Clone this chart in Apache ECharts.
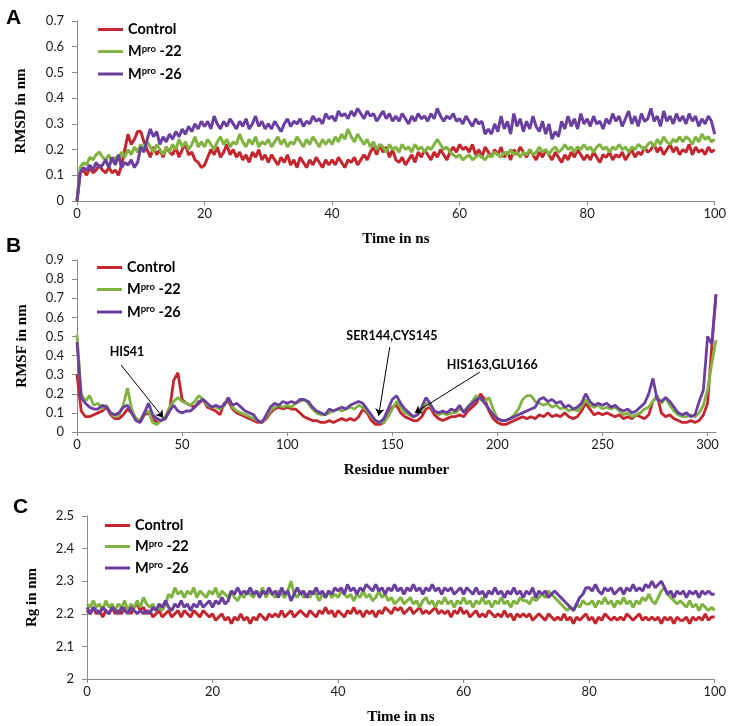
<!DOCTYPE html>
<html>
<head>
<meta charset="utf-8">
<script src="https://cdn.jsdelivr.net/npm/echarts@6/dist/echarts.min.js"></script>
<style>
html,body{margin:0;padding:0;background:#fff;}
#chart{width:729px;height:726px;}
</style>
</head>
<body>
<div id="chart"></div>
<script>
// ---------- DATA ----------
const seriesNames = ['Control', 'Mpro -22', 'Mpro -26'];
const seriesColors = ['#c3262c', '#80b341', '#6b3fa0'];

// Panel A: RMSD (nm), sampled every 0.5 ns from 0 to 100 ns
const timeStepNs = 0.5;
const rmsdControl = [
0,0.11,0.12,0.10,0.13,0.11,0.12,0.14,0.12,0.11,
0.13,0.11,0.12,0.10,0.14,0.20,0.26,0.22,0.24,0.27,
0.27,0.23,0.20,0.17,0.21,0.18,0.20,0.17,0.21,0.19,
0.18,0.21,0.17,0.20,0.22,0.18,0.19,0.16,0.15,0.13,
0.14,0.17,0.20,0.18,0.21,0.17,0.19,0.22,0.18,0.20,
0.17,0.19,0.16,0.18,0.15,0.19,0.17,0.20,0.16,0.18,
0.15,0.18,0.16,0.14,0.17,0.15,0.18,0.14,0.16,0.13,
0.17,0.15,0.13,0.16,0.14,0.17,0.15,0.13,0.16,0.14,
0.16,0.14,0.17,0.15,0.13,0.16,0.15,0.17,0.14,0.16,
0.18,0.16,0.19,0.21,0.18,0.22,0.19,0.21,0.17,0.20,
0.16,0.15,0.17,0.14,0.16,0.18,0.15,0.19,0.17,0.20,
0.18,0.16,0.19,0.17,0.20,0.18,0.16,0.19,0.21,0.19,
0.22,0.20,0.21,0.19,0.22,0.18,0.20,0.17,0.21,0.19,
0.17,0.20,0.18,0.21,0.17,0.19,0.16,0.20,0.18,0.21,
0.19,0.17,0.20,0.18,0.16,0.19,0.17,0.20,0.18,0.16,
0.19,0.17,0.15,0.18,0.16,0.19,0.17,0.20,0.18,0.16,
0.18,0.16,0.19,0.17,0.15,0.18,0.17,0.19,0.16,0.18,
0.17,0.19,0.16,0.18,0.20,0.17,0.19,0.18,0.21,0.19,
0.20,0.22,0.19,0.21,0.18,0.20,0.22,0.19,0.21,0.18,
0.20,0.19,0.22,0.18,0.21,0.19,0.20,0.18,0.21,0.19,
0.20];
const rmsdMpro22 = [
0,0.13,0.15,0.14,0.17,0.16,0.18,0.19,0.17,0.16,
0.18,0.15,0.17,0.16,0.19,0.17,0.20,0.18,0.21,0.19,
0.22,0.20,0.23,0.21,0.19,0.22,0.20,0.18,0.21,0.19,
0.22,0.20,0.24,0.21,0.23,0.20,0.22,0.25,0.21,0.23,
0.21,0.24,0.22,0.20,0.23,0.25,0.22,0.24,0.21,0.23,
0.22,0.26,0.23,0.21,0.24,0.22,0.25,0.21,0.23,0.22,
0.24,0.21,0.23,0.25,0.22,0.24,0.21,0.23,0.22,0.25,
0.23,0.21,0.24,0.22,0.25,0.23,0.21,0.24,0.22,0.24,
0.22,0.25,0.23,0.26,0.24,0.28,0.25,0.23,0.26,0.24,
0.22,0.24,0.21,0.23,0.20,0.22,0.21,0.19,0.22,0.20,
0.21,0.19,0.22,0.20,0.21,0.19,0.22,0.20,0.21,0.19,
0.21,0.20,0.22,0.24,0.22,0.20,0.21,0.19,0.18,0.17,
0.18,0.16,0.17,0.18,0.16,0.17,0.18,0.17,0.16,0.18,
0.17,0.19,0.18,0.17,0.19,0.18,0.20,0.18,0.19,0.17,
0.19,0.18,0.20,0.18,0.19,0.21,0.19,0.20,0.18,0.20,
0.21,0.19,0.20,0.22,0.20,0.21,0.19,0.21,0.20,0.22,
0.20,0.21,0.19,0.21,0.22,0.20,0.21,0.19,0.21,0.20,
0.22,0.20,0.21,0.19,0.21,0.20,0.22,0.21,0.20,0.22,
0.23,0.21,0.24,0.22,0.25,0.23,0.22,0.24,0.23,0.25,
0.23,0.25,0.24,0.22,0.25,0.23,0.26,0.24,0.25,0.23,
0.24];
const rmsdMpro26 = [
0,0.11,0.13,0.12,0.14,0.12,0.15,0.13,0.14,0.16,
0.13,0.17,0.14,0.18,0.13,0.15,0.14,0.16,0.13,0.15,
0.21,0.19,0.24,0.28,0.25,0.27,0.22,0.25,0.23,0.26,
0.24,0.27,0.25,0.28,0.26,0.29,0.27,0.30,0.28,0.31,
0.29,0.31,0.28,0.33,0.30,0.28,0.31,0.29,0.32,0.30,
0.28,0.31,0.29,0.32,0.28,0.30,0.33,0.29,0.31,0.28,
0.30,0.28,0.31,0.29,0.27,0.30,0.32,0.29,0.31,0.30,
0.32,0.29,0.31,0.30,0.33,0.31,0.32,0.30,0.34,0.32,
0.33,0.31,0.35,0.33,0.34,0.32,0.35,0.33,0.36,0.34,
0.32,0.35,0.33,0.34,0.31,0.33,0.35,0.32,0.34,0.31,
0.33,0.31,0.34,0.32,0.30,0.33,0.31,0.34,0.32,0.33,
0.31,0.34,0.32,0.36,0.33,0.31,0.33,0.32,0.34,0.31,
0.32,0.30,0.33,0.31,0.29,0.32,0.30,0.31,0.26,0.28,
0.26,0.30,0.27,0.33,0.28,0.31,0.26,0.34,0.29,0.32,
0.27,0.31,0.28,0.33,0.29,0.27,0.31,0.26,0.30,0.24,
0.27,0.25,0.31,0.28,0.33,0.29,0.32,0.28,0.34,0.30,
0.32,0.29,0.33,0.30,0.31,0.28,0.32,0.30,0.34,0.31,
0.33,0.29,0.32,0.35,0.30,0.33,0.29,0.34,0.31,0.32,
0.36,0.31,0.33,0.29,0.35,0.31,0.33,0.30,0.34,0.31,
0.33,0.30,0.34,0.31,0.33,0.29,0.32,0.30,0.33,0.31,
0.26];

// Panel B: RMSF (nm) per residue, every 2 residues from 0 to 304
const residueStep = 2;
const rmsfControl = [
0.30,0.11,0.08,0.08,0.09,0.10,0.11,0.13,0.09,0.07,
0.07,0.09,0.12,0.10,0.07,0.05,0.09,0.10,0.07,0.05,
0.06,0.07,0.11,0.27,0.31,0.17,0.15,0.14,0.13,0.15,
0.17,0.13,0.12,0.11,0.09,0.15,0.16,0.12,0.10,0.09,
0.08,0.07,0.06,0.05,0.05,0.07,0.10,0.12,0.13,0.12,
0.13,0.12,0.12,0.10,0.08,0.07,0.06,0.06,0.05,0.05,
0.06,0.05,0.06,0.07,0.06,0.07,0.06,0.08,0.12,0.10,
0.06,0.04,0.04,0.05,0.09,0.13,0.14,0.10,0.08,0.07,
0.06,0.06,0.08,0.12,0.13,0.09,0.07,0.06,0.07,0.08,
0.08,0.09,0.08,0.11,0.13,0.15,0.20,0.17,0.11,0.07,
0.05,0.04,0.04,0.05,0.06,0.07,0.08,0.07,0.08,0.07,
0.09,0.08,0.10,0.08,0.09,0.08,0.10,0.08,0.07,0.08,
0.11,0.15,0.12,0.09,0.10,0.09,0.10,0.09,0.08,0.09,
0.07,0.08,0.07,0.09,0.08,0.07,0.09,0.16,0.19,0.10,
0.08,0.09,0.07,0.06,0.05,0.05,0.06,0.05,0.06,0.09,
0.15,0.45,0.72];
const rmsfMpro22 = [
0.51,0.20,0.16,0.19,0.14,0.15,0.12,0.14,0.10,0.08,
0.09,0.14,0.23,0.12,0.07,0.06,0.10,0.11,0.05,0.04,
0.06,0.08,0.13,0.16,0.18,0.16,0.15,0.14,0.16,0.19,
0.17,0.14,0.13,0.13,0.12,0.14,0.18,0.13,0.11,0.10,
0.09,0.08,0.07,0.06,0.05,0.08,0.11,0.13,0.14,0.13,
0.14,0.13,0.15,0.16,0.17,0.15,0.12,0.10,0.09,0.09,
0.10,0.11,0.12,0.11,0.12,0.13,0.12,0.14,0.13,0.11,
0.08,0.06,0.05,0.05,0.08,0.12,0.16,0.13,0.10,0.09,
0.08,0.09,0.11,0.15,0.14,0.11,0.09,0.10,0.09,0.10,
0.10,0.12,0.11,0.13,0.16,0.19,0.17,0.16,0.18,0.12,
0.07,0.06,0.06,0.07,0.09,0.12,0.17,0.19,0.19,0.16,
0.15,0.14,0.15,0.13,0.14,0.12,0.13,0.11,0.12,0.11,
0.13,0.17,0.14,0.13,0.14,0.12,0.13,0.12,0.13,0.11,
0.09,0.10,0.08,0.09,0.10,0.12,0.13,0.16,0.19,0.15,
0.18,0.14,0.11,0.09,0.08,0.08,0.09,0.08,0.10,0.14,
0.22,0.36,0.48];
const rmsfMpro26 = [
0.47,0.18,0.15,0.13,0.12,0.12,0.14,0.13,0.10,0.09,
0.10,0.13,0.14,0.10,0.06,0.05,0.10,0.15,0.09,0.07,
0.06,0.07,0.11,0.14,0.11,0.10,0.11,0.11,0.13,0.16,
0.17,0.15,0.13,0.14,0.13,0.14,0.18,0.14,0.15,0.13,
0.11,0.10,0.09,0.06,0.05,0.09,0.13,0.15,0.14,0.16,
0.15,0.16,0.15,0.17,0.17,0.16,0.13,0.11,0.10,0.09,
0.12,0.11,0.12,0.13,0.12,0.14,0.15,0.16,0.15,0.12,
0.09,0.06,0.05,0.07,0.12,0.17,0.19,0.15,0.12,0.10,
0.08,0.09,0.13,0.18,0.15,0.11,0.10,0.11,0.10,0.12,
0.11,0.14,0.10,0.13,0.15,0.17,0.18,0.15,0.12,0.09,
0.07,0.06,0.06,0.07,0.08,0.09,0.10,0.11,0.12,0.13,
0.17,0.18,0.16,0.17,0.15,0.16,0.13,0.14,0.12,0.13,
0.15,0.20,0.16,0.14,0.15,0.14,0.15,0.13,0.14,0.12,
0.11,0.12,0.10,0.11,0.13,0.15,0.20,0.28,0.17,0.16,
0.18,0.16,0.13,0.10,0.09,0.10,0.08,0.09,0.16,0.22,
0.50,0.46,0.72];

// Panel C: Rg (nm), sampled every 0.5 ns from 0 to 100 ns
const rgControl = [
2.21,2.20,2.22,2.20,2.21,2.19,2.21,2.20,2.22,2.20,
2.21,2.20,2.22,2.21,2.20,2.22,2.23,2.21,2.22,2.20,
2.21,2.19,2.20,2.21,2.19,2.20,2.21,2.19,2.20,2.21,
2.19,2.21,2.20,2.19,2.21,2.20,2.19,2.21,2.20,2.19,
2.20,2.18,2.19,2.20,2.18,2.19,2.17,2.19,2.18,2.20,
2.18,2.19,2.17,2.19,2.18,2.20,2.19,2.18,2.20,2.19,
2.20,2.19,2.21,2.19,2.20,2.21,2.19,2.20,2.21,2.20,
2.19,2.21,2.20,2.19,2.21,2.20,2.22,2.20,2.21,2.19,
2.21,2.20,2.19,2.21,2.20,2.22,2.20,2.21,2.19,2.21,
2.20,2.21,2.19,2.21,2.20,2.22,2.21,2.20,2.22,2.21,
2.22,2.20,2.21,2.22,2.20,2.21,2.22,2.20,2.21,2.20,
2.21,2.22,2.20,2.21,2.20,2.21,2.19,2.21,2.20,2.22,
2.20,2.21,2.19,2.20,2.21,2.19,2.20,2.19,2.21,2.20,
2.19,2.20,2.19,2.21,2.19,2.20,2.18,2.20,2.19,2.20,
2.19,2.20,2.18,2.19,2.20,2.19,2.18,2.20,2.19,2.18,
2.19,2.18,2.20,2.18,2.19,2.17,2.19,2.18,2.19,2.20,
2.18,2.19,2.17,2.19,2.18,2.20,2.19,2.18,2.19,2.18,
2.19,2.18,2.20,2.19,2.18,2.19,2.20,2.18,2.19,2.18,
2.19,2.18,2.19,2.17,2.19,2.18,2.19,2.17,2.19,2.18,
2.18,2.19,2.17,2.19,2.18,2.19,2.18,2.20,2.18,2.19,
2.19];
const rgMpro22 = [
2.23,2.22,2.24,2.22,2.23,2.21,2.24,2.22,2.23,2.21,
2.23,2.22,2.24,2.21,2.23,2.22,2.24,2.22,2.25,2.23,
2.22,2.23,2.21,2.22,2.21,2.23,2.26,2.25,2.28,2.26,
2.27,2.25,2.27,2.26,2.28,2.25,2.27,2.26,2.25,2.27,
2.26,2.28,2.25,2.27,2.26,2.25,2.27,2.25,2.24,2.26,
2.25,2.27,2.26,2.25,2.27,2.26,2.28,2.25,2.27,2.26,
2.25,2.27,2.26,2.25,2.27,2.30,2.26,2.25,2.27,2.25,
2.26,2.25,2.27,2.26,2.24,2.26,2.25,2.27,2.25,2.26,
2.25,2.27,2.26,2.25,2.26,2.24,2.26,2.25,2.27,2.25,
2.26,2.24,2.25,2.27,2.25,2.26,2.24,2.25,2.23,2.24,
2.25,2.23,2.24,2.25,2.23,2.24,2.22,2.24,2.25,2.23,
2.24,2.22,2.24,2.23,2.25,2.23,2.24,2.22,2.24,2.23,
2.25,2.23,2.24,2.22,2.24,2.23,2.25,2.23,2.24,2.22,
2.24,2.23,2.25,2.23,2.24,2.22,2.24,2.23,2.25,2.24,
2.24,2.23,2.25,2.24,2.25,2.26,2.25,2.27,2.26,2.25,
2.24,2.23,2.22,2.21,2.22,2.21,2.23,2.22,2.24,2.23,
2.23,2.24,2.22,2.24,2.23,2.25,2.23,2.24,2.22,2.24,
2.23,2.25,2.23,2.24,2.22,2.24,2.23,2.25,2.24,2.26,
2.24,2.23,2.25,2.27,2.28,2.26,2.25,2.24,2.23,2.24,
2.23,2.22,2.24,2.22,2.23,2.21,2.23,2.22,2.21,2.22,
2.21];
const rgMpro26 = [
2.22,2.20,2.22,2.21,2.20,2.22,2.21,2.20,2.22,2.21,
2.20,2.22,2.21,2.20,2.22,2.21,2.20,2.21,2.20,2.21,
2.20,2.22,2.21,2.23,2.22,2.24,2.22,2.21,2.23,2.22,
2.24,2.22,2.23,2.21,2.23,2.22,2.24,2.22,2.23,2.24,
2.22,2.24,2.23,2.25,2.23,2.24,2.27,2.26,2.28,2.26,
2.27,2.26,2.28,2.26,2.27,2.25,2.27,2.26,2.28,2.26,
2.27,2.25,2.28,2.26,2.27,2.24,2.26,2.28,2.26,2.27,
2.25,2.27,2.26,2.28,2.26,2.27,2.25,2.27,2.26,2.28,
2.27,2.28,2.26,2.29,2.27,2.28,2.26,2.28,2.27,2.29,
2.28,2.27,2.29,2.27,2.28,2.26,2.28,2.27,2.29,2.27,
2.28,2.26,2.28,2.27,2.29,2.27,2.28,2.26,2.28,2.27,
2.29,2.27,2.28,2.26,2.28,2.27,2.28,2.26,2.27,2.28,
2.26,2.28,2.27,2.26,2.28,2.26,2.27,2.25,2.27,2.26,
2.28,2.26,2.27,2.25,2.27,2.26,2.28,2.26,2.27,2.25,
2.27,2.26,2.28,2.25,2.27,2.26,2.27,2.25,2.26,2.27,
2.26,2.25,2.24,2.23,2.22,2.21,2.23,2.25,2.26,2.28,
2.28,2.27,2.29,2.27,2.26,2.28,2.27,2.28,2.26,2.27,
2.28,2.26,2.28,2.27,2.29,2.27,2.28,2.27,2.29,2.28,
2.30,2.28,2.29,2.30,2.28,2.26,2.27,2.25,2.27,2.26,
2.27,2.25,2.27,2.26,2.27,2.25,2.27,2.26,2.27,2.26,
2.26];

// Annotations in panel B: [label, text position, arrow start, arrow tip] in data units
const annotationLabels = ['HIS41', 'SER144,CYS145', 'HIS163,GLU166'];
const annotationTextPos = [[23.8, 0.418], [149.8, 0.50], [197.6, 0.35]];
const annotationArrowFrom = [[21, 0.35], [148.8, 0.445], [191.6, 0.313]];
const annotationArrowTo = [[41, 0.075], [143.5, 0.085], [160.7, 0.10]];

// Axis settings
const axisA = {xMin: 0, xMax: 100, xInterval: 20, yMin: 0, yMax: 0.7, yInterval: 0.1};
const axisB = {xMin: 0, xMax: 304, xInterval: 50, yMin: 0, yMax: 0.9, yInterval: 0.1};
const axisC = {xMin: 0, xMax: 100, xInterval: 20, yMin: 2, yMax: 2.5, yInterval: 0.1};

// ---------- CHART ----------
const labelFont = 'Lato, "Open Sans", sans-serif';
const titleFont = '"Liberation Serif", "DejaVu Serif", serif';
const axisColor = '#8a8a8a';

function timePairs(arr) { return arr.map((v, i) => [i * timeStepNs, v]); }
function residuePairs(arr) { return arr.map((v, i) => [i * residueStep, v]); }

function xAxisCfg(idx, a, name) {
  return {
    gridIndex: idx, type: 'value', min: a.xMin, max: a.xMax, interval: a.xInterval,
    name: name, nameLocation: 'middle', nameGap: 31,
    nameTextStyle: {fontFamily: titleFont, fontWeight: 'bold', fontSize: 15, color: '#000'},
    axisLine: {show: true, onZero: false, lineStyle: {color: axisColor, width: 1}},
    axisTick: {show: true, length: 4, lineStyle: {color: axisColor}},
    axisLabel: {fontFamily: labelFont, fontSize: 13, color: '#1a1a1a', margin: 6, showMaxLabel: a.xMax % a.xInterval === 0},
    splitLine: {show: false}
  };
}
function yAxisCfg(idx, a, name, gap) {
  return {
    gridIndex: idx, type: 'value', min: a.yMin, max: a.yMax, interval: a.yInterval,
    name: name, nameLocation: 'middle', nameGap: gap,
    nameTextStyle: {fontFamily: titleFont, fontWeight: 'bold', fontSize: 15, color: '#000'},
    axisLine: {show: true, lineStyle: {color: axisColor, width: 1}},
    axisTick: {show: true, length: 5, lineStyle: {color: axisColor}},
    axisLabel: {fontFamily: labelFont, fontSize: 13, color: '#1a1a1a', margin: 13},
    splitLine: {show: false}
  };
}
function legendCfg(idx, left, top, gap) {
  return {
    orient: 'vertical', left: left, top: top, itemWidth: 25, itemHeight: 3, itemGap: gap,
    icon: 'rect', data: seriesNames.slice(),
    selectedMode: false,
    formatter: function (name) {
      if (name === 'Control') return '{n|Control}';
      const p = name.split(' ');
      return '{n|M}{s|pro}{n| ' + p[1] + '}';
    },
    textStyle: {
      rich: {
        n: {fontFamily: labelFont, fontWeight: 'bold', fontSize: 14.5, color: '#000', lineHeight: 16},
        s: {fontFamily: labelFont, fontWeight: 'bold', fontSize: 9.5, color: '#000', lineHeight: 16, padding: [0, 0, 6, 0]}
      }
    }
  };
}

const panelData = [
  [rmsdControl, rmsdMpro22, rmsdMpro26].map(timePairs),
  [rmsfControl, rmsfMpro22, rmsfMpro26].map(residuePairs),
  [rgControl, rgMpro22, rgMpro26].map(timePairs)
];

const series = [];
panelData.forEach((group, g) => {
  group.forEach((d, k) => {
    series.push({
      type: 'line', name: seriesNames[k], xAxisIndex: g, yAxisIndex: g,
      data: d, showSymbol: false, symbol: 'none',
      lineStyle: {color: seriesColors[k], width: g === 1 ? 2.8 : 3},
      itemStyle: {color: seriesColors[k]},
      emphasis: {disabled: true}, z: 2 + k
    });
  });
});

// annotation layer on panel B
series.push({
  type: 'line', xAxisIndex: 1, yAxisIndex: 1, data: [], silent: true, z: 10,
  markLine: {
    silent: true, symbol: ['none', 'arrow'], symbolSize: 7,
    lineStyle: {color: '#000', width: 1, type: 'solid'},
    label: {show: false},
    data: annotationArrowFrom.map((f, i) => [{coord: f}, {coord: annotationArrowTo[i]}])
  },
  markPoint: {
    silent: true, symbol: 'circle', symbolSize: 1,
    itemStyle: {color: 'rgba(0,0,0,0)'},
    label: {show: true, position: 'inside', formatter: '{b}', fontFamily: labelFont, fontWeight: 'bold', fontSize: 12.5, color: '#000'},
    data: annotationLabels.map((t, i) => ({name: t, coord: annotationTextPos[i]}))
  }
});

const option = {
  animation: false,
  backgroundColor: '#fff',
  title: [
    {text: 'A', left: 1, top: 3, textStyle: {fontFamily: '"Liberation Sans", Arial, sans-serif', fontWeight: 'bold', fontSize: 21, color: '#000'}},
    {text: 'B', left: 1, top: 231, textStyle: {fontFamily: '"Liberation Sans", Arial, sans-serif', fontWeight: 'bold', fontSize: 21, color: '#000'}},
    {text: 'C', left: 8, top: 492, textStyle: {fontFamily: '"Liberation Sans", Arial, sans-serif', fontWeight: 'bold', fontSize: 21, color: '#000'}}
  ],
  legend: [legendCfg(0, 93, 17, 6.5), legendCfg(1, 92, 255, 6.5), legendCfg(2, 100, 513, 5.5)],
  grid: [
    {left: 77, right: 11, top: 21, bottom: 525},
    {left: 77, right: 13, top: 260, bottom: 294},
    {left: 87, right: 12, top: 516, bottom: 47}
  ],
  xAxis: [xAxisCfg(0, axisA, 'Time in ns'), xAxisCfg(1, axisB, 'Residue number'), xAxisCfg(2, axisC, 'Time in ns')],
  yAxis: [yAxisCfg(0, axisA, 'RMSD in nm', 48), yAxisCfg(1, axisB, 'RMSF in nm', 47), yAxisCfg(2, axisC, 'Rg in nm', 47)],
  series: series
};

const chart = echarts.init(document.getElementById('chart'), null, {renderer: 'canvas'});
chart.setOption(option);
</script>
</body>
</html>
